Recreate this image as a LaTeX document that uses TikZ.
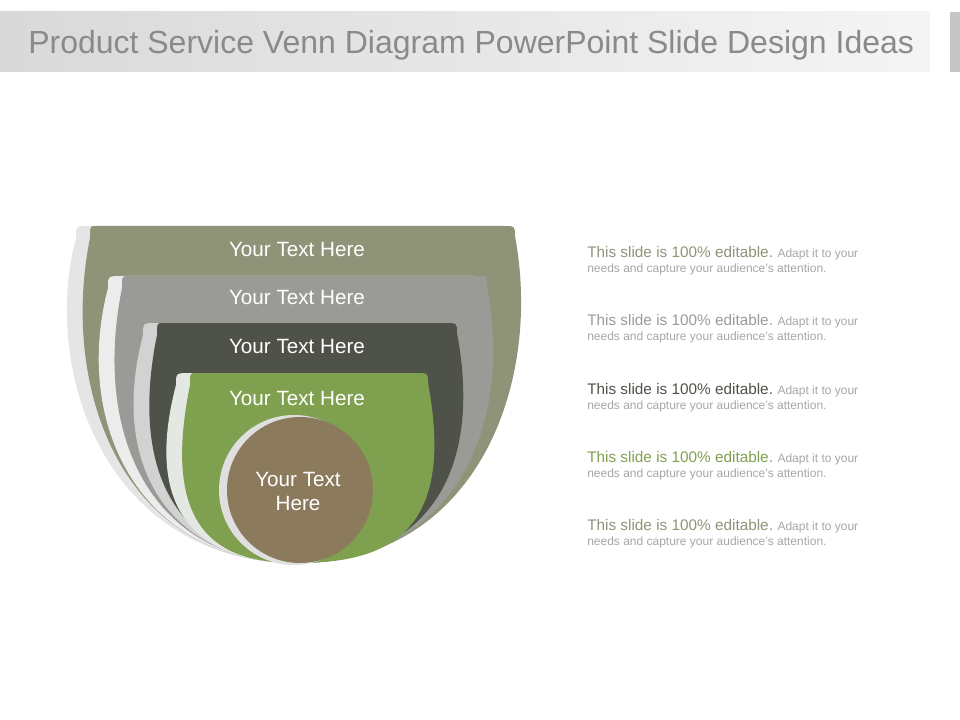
\documentclass[tikz,border=0pt]{standalone}
\usepackage{fontspec}
\setmainfont{Liberation Sans}
\definecolor{olivegray}{HTML}{8F9478}
\definecolor{midgray}{HTML}{9A9B96}
\definecolor{darkgray}{HTML}{4F5249}
\definecolor{leafgreen}{HTML}{7FA04E}
\definecolor{earth}{HTML}{8B7A5C}
\definecolor{titlegray}{HTML}{8A8A8A}
\tikzset{
  lbl/.style={text=white,font=\fontsize{15.5}{18}\selectfont,align=center},
  note/.style={anchor=north west,inner sep=0pt,align=left,font=\fontsize{9}{11}\selectfont,text=gray!70},
}
% bowl: left, right, top, fill colour, edge colour
\newcommand\bowl[5]{%
  \fill[#5] (#1-14,#3+12) .. controls (#1-14,#3) .. (#1,#3) -- (#2-12,#3)
    .. controls (#2+30,#3+150) and (#2-40,563) .. (297,563)
    .. controls (#1+20,563) and (#1-50,#3+150) .. (#1-14,#3+12) -- cycle;
  \fill[#4] (#1+6,#3) -- (#2-12,#3) .. controls (#2,#3) .. (#2,#3+10)
    .. controls (#2+28,#3+160) and (#2-40,563) .. (297,563)
    .. controls (#1+30,563) and (#1-30,#3+160) .. (#1,#3+12)
    .. controls (#1,#3) .. (#1+6,#3) -- cycle;}
\newcommand\slidenote[3]{%
  \node[note] (#1) at (587,#2) {{\fontsize{11.5}{13}\selectfont\color{#3}This slide is 100\% editable.}
    Adapt it to your\\needs and capture your audience’s attention.};}
\begin{document}
\begin{tikzpicture}[x=0.75pt,y=-0.75pt]
\useasboundingbox (0,0) rectangle (960,720);
\shade[left color=gray!30,right color=gray!8] (0,12) rectangle (930,72);
\fill[gray!45] (950,12) rectangle (960,72);
\node[text=titlegray,font=\fontsize{24}{28}\selectfont,anchor=west,inner sep=0pt] (title) at (28,45)
  {Product Service Venn Diagram PowerPoint Slide Design Ideas};
% nested bowls
\bowl{90}{515}{226}{olivegray}{gray!20}
\bowl{122}{487}{276}{midgray}{gray!15}
\bowl{157}{457}{323}{darkgray}{gray!35}
\bowl{190}{428}{373}{leafgreen}{green!10!gray!20}
\fill[gray!25] (294,490) circle (75);
\fill[earth] (300,490) circle (73);
\node[lbl] (t1) at (297,249) {Your Text Here};
\node[lbl] (t2) at (297,297) {Your Text Here};
\node[lbl] (t3) at (297,346) {Your Text Here};
\node[lbl] (t4) at (297,398) {Your Text Here};
\node[lbl] (t5) at (298,491) {Your Text\\Here};
% notes
\slidenote{n1}{246}{olivegray}
\slidenote{n2}{314}{midgray}
\slidenote{n3}{383}{darkgray}
\slidenote{n4}{451}{leafgreen}
\slidenote{n5}{519}{olivegray}
\end{tikzpicture}
\end{document}
